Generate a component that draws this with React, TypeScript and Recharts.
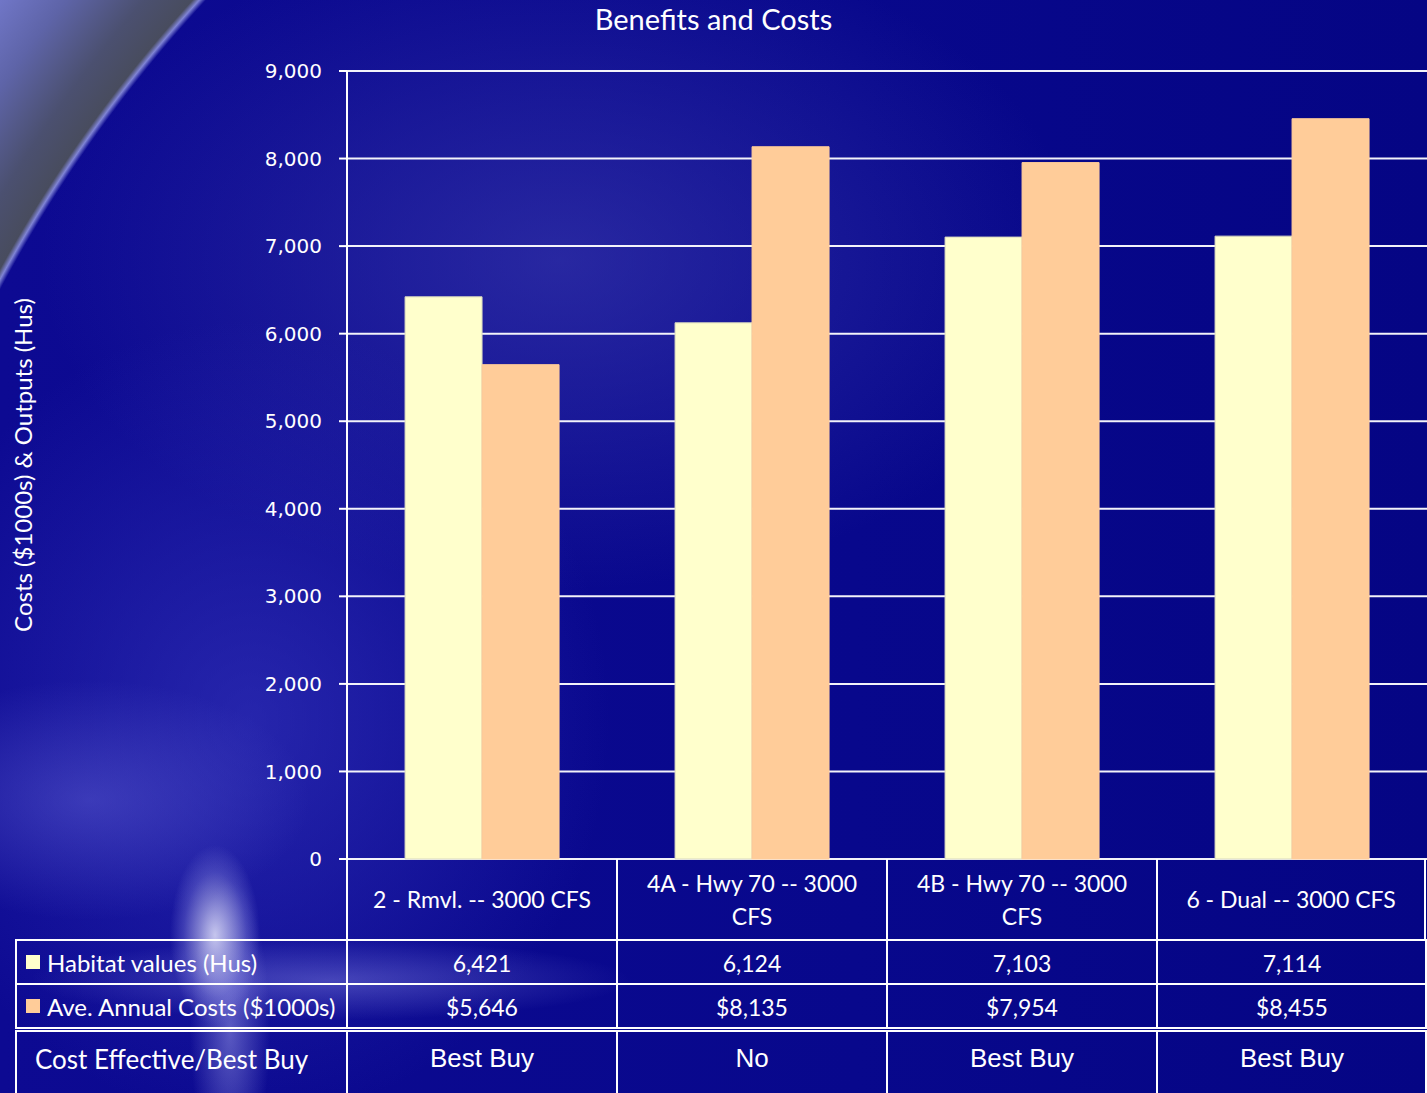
import React from "react";
import { BarChart, Bar, XAxis, YAxis, CartesianGrid } from "recharts";

const categories = [
  "2 - Rmvl. -- 3000 CFS",
  "4A - Hwy 70 -- 3000 CFS",
  "4B - Hwy 70 -- 3000 CFS",
  "6 - Dual -- 3000 CFS",
];
const habitatValues = [6421, 6124, 7103, 7114];
const annualCosts = [5646, 8135, 7954, 8455];
const bestBuy = ["Best Buy", "No", "Best Buy", "Best Buy"];
const yTicks = [0, 1000, 2000, 3000, 4000, 5000, 6000, 7000, 8000, 9000];

const series = [
  { key: "habitat", label: "Habitat values (Hus)", color: "#FFFFCC", values: habitatValues, fmt: (v: number) => v.toLocaleString("en-US") },
  { key: "cost", label: "Ave. Annual Costs ($1000s)", color: "#FFCC99", values: annualCosts, fmt: (v: number) => "$" + v.toLocaleString("en-US") },
];

const rows = categories.map((name, i) => ({
  name,
  habitat: habitatValues[i],
  cost: annualCosts[i],
}));

const W = 1427;
const H = 1093;
const PLOT_LEFT = 347;
const COL_W = 270;
const calibri = "Lato, 'Open Sans', sans-serif";
const line = "2px solid #ffffff";

// slide background: big dark swirl, grey corner top-left, light streak bottom-left
const bg = [
  "radial-gradient(circle 1400px at 1230px 946px, rgba(0,0,0,0) 1394px, rgba(140,145,220,0.9) 1399px, #484c5e 1404px, #4b5070 1440px, #5e64a8 1500px, #7379cc 1560px)",
  "radial-gradient(ellipse 45px 90px at 215px 935px, rgba(225,225,250,0.85), rgba(150,150,230,0.3) 70%, rgba(0,0,0,0))",
  "radial-gradient(ellipse 40px 150px at 230px 1030px, rgba(150,150,230,0.55), rgba(0,0,0,0))",
  "radial-gradient(ellipse 300px 40px at 330px 980px, rgba(130,130,225,0.45), rgba(0,0,0,0))",
  "radial-gradient(ellipse 220px 120px at 90px 800px, rgba(100,100,215,0.45), rgba(0,0,0,0))",
  "radial-gradient(ellipse 360px 400px at 250px 720px, rgba(60,60,195,0.55), rgba(0,0,0,0))",
  "radial-gradient(ellipse 520px 330px at 560px 260px, rgba(70,70,180,0.5), rgba(0,0,0,0))",
  "linear-gradient(90deg, #0d0a92 0%, #08088c 60%, #050584 100%)",
].join(", ");

export default function App() {
  return (
    <div style={{ position: "absolute", left: 0, top: 0, width: W, height: H, overflow: "hidden", background: bg, color: "#fff" }}>
      <div style={{ position: "absolute", left: 0, width: W, top: 1, textAlign: "center", fontFamily: calibri, fontSize: 29 }}>
        Benefits and Costs
      </div>
      <div
        style={{
          position: "absolute",
          left: 22,
          top: 465,
          transform: "translate(-50%, -50%) rotate(-90deg)",
          whiteSpace: "nowrap",
          fontFamily: calibri,
          fontSize: 24,
        }}
      >
        Costs ($1000s) &amp; Outputs (Hus)
      </div>
      <div style={{ position: "absolute", left: 0, top: 0 }}>
        <BarChart
          width={W}
          height={H}
          data={rows}
          margin={{ top: 71, right: 0, bottom: 234, left: 0 }}
          barCategoryGap="21.5%"
          barGap={0}
        >
          <CartesianGrid vertical={false} stroke="#ffffff" strokeWidth={2} strokeOpacity={0.95} />
          <XAxis dataKey="name" hide />
          <YAxis
            width={PLOT_LEFT}
            domain={[0, 9000]}
            ticks={yTicks}
            interval={0}
            tickFormatter={(v: number) => v.toLocaleString("en-US")}
            tick={{ fill: "#ffffff", fontSize: 20, fontFamily: "'DejaVu Sans', sans-serif" }}
            axisLine={{ stroke: "#ffffff", strokeWidth: 2 }}
            tickLine={{ stroke: "#ffffff", strokeWidth: 2 }}
            tickSize={8}
            tickMargin={17}
          />
          {series.map((s) => (
            <Bar key={s.key} dataKey={s.key} fill={s.color} stroke={s.key === "habitat" ? "#d8d8c0" : s.color} strokeWidth={1} isAnimationActive={false} />
          ))}
        </BarChart>
      </div>

      {/* category header row */}
      <div style={{ position: "absolute", left: PLOT_LEFT - 1, top: 859, height: 81, display: "flex" }}>
        {categories.map((c, i) => (
          <div
            key={c}
            style={{
              width: COL_W,
              height: 81,
              boxSizing: "border-box",
              borderLeft: line,
              borderRight: i === categories.length - 1 ? line : undefined,
              display: "flex",
              alignItems: "center",
              justifyContent: "center",
              textAlign: "center",
              padding: "0 14px",
              fontFamily: calibri,
              fontSize: 23,
              lineHeight: "33px",
            }}
          >
            {c}
          </div>
        ))}
      </div>

      {/* series rows */}
      <div style={{ position: "absolute", left: 15, top: 939, width: 1412, boxSizing: "border-box", border: line, borderBottom: "none" }}>
        {series.map((s) => (
          <div key={s.key} style={{ display: "flex", height: 44, borderBottom: line, boxSizing: "border-box" }}>
            <div
              style={{
                width: PLOT_LEFT - 18,
                flexShrink: 0,
                boxSizing: "border-box",
                display: "flex",
                alignItems: "center",
                paddingLeft: 9,
                fontFamily: calibri,
                fontSize: 24,
                whiteSpace: "nowrap",
              }}
            >
              <span style={{ display: "inline-block", width: 14, height: 14, background: s.color, marginRight: 7 }} />
              {s.label}
            </div>
            {s.values.map((v, i) => (
              <div
                key={i}
                style={{
                  width: COL_W,
                  flexShrink: 0,
                  boxSizing: "border-box",
                  borderLeft: line,
                  display: "flex",
                  alignItems: "center",
                  justifyContent: "center",
                  paddingTop: 2,
                  fontFamily: calibri,
                  fontSize: 23,
                }}
              >
                {s.fmt(v)}
              </div>
            ))}
          </div>
        ))}
      </div>

      {/* cost effective row */}
      <div style={{ position: "absolute", left: 15, top: 1030, width: 1412, height: 80, boxSizing: "border-box", border: line, display: "flex" }}>
        <div
          style={{
            width: PLOT_LEFT - 18,
            flexShrink: 0,
            paddingLeft: 18,
            paddingTop: 11,
            boxSizing: "border-box",
            fontFamily: calibri,
            fontSize: 26,
            whiteSpace: "nowrap",
          }}
        >
          Cost Effective/Best Buy
        </div>
        {bestBuy.map((b, i) => (
          <div
            key={i}
            style={{
              width: COL_W,
              flexShrink: 0,
              boxSizing: "border-box",
              borderLeft: line,
              textAlign: "center",
              paddingTop: 11,
              fontFamily: "'Liberation Sans', Arial, sans-serif",
              fontSize: 26,
            }}
          >
            {b}
          </div>
        ))}
      </div>
    </div>
  );
}
